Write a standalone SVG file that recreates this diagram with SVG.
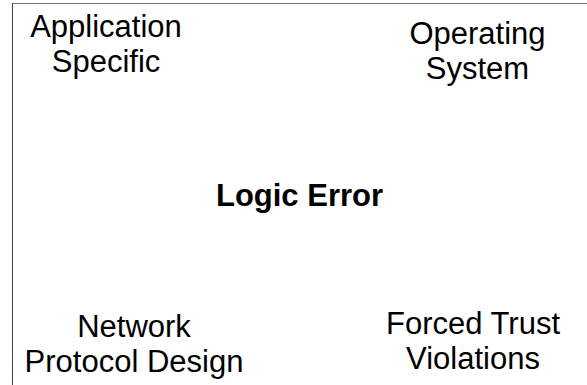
<svg xmlns="http://www.w3.org/2000/svg" width="587" height="385" viewBox="0 0 587 385">
<style>
.t{font-family:"Liberation Sans",Arial,sans-serif;font-size:31px;fill:#000;text-anchor:middle}
.b{font-weight:bold}
</style>
<rect width="587" height="385" fill="#fff"/>
<g id="frame">
<line x1="12.5" y1="3.5" x2="587" y2="3.5" stroke="#777" stroke-width="1"/>
<line x1="12.5" y1="3" x2="12.5" y2="385" stroke="#444" stroke-width="1"/>
</g>
<g id="connectors"></g>
<g id="application-specific"><text class="t" x="106" y="37"><tspan x="106">Application</tspan><tspan x="106" y="72">Specific</tspan></text></g>
<g id="operating-system"><text class="t" x="477.5" y="44"><tspan x="477.5">Operating</tspan><tspan x="477.5" y="79">System</tspan></text></g>
<g id="logic-error"><text class="t b" x="299.5" y="206">Logic Error</text></g>
<g id="network-protocol-design"><text class="t" x="134" y="337"><tspan x="134">Network</tspan><tspan x="134" y="372">Protocol Design</tspan></text></g>
<g id="forced-trust-violations"><text class="t" x="473" y="334"><tspan x="473">Forced Trust</tspan><tspan x="473" y="369">Violations</tspan></text></g>
</svg>
